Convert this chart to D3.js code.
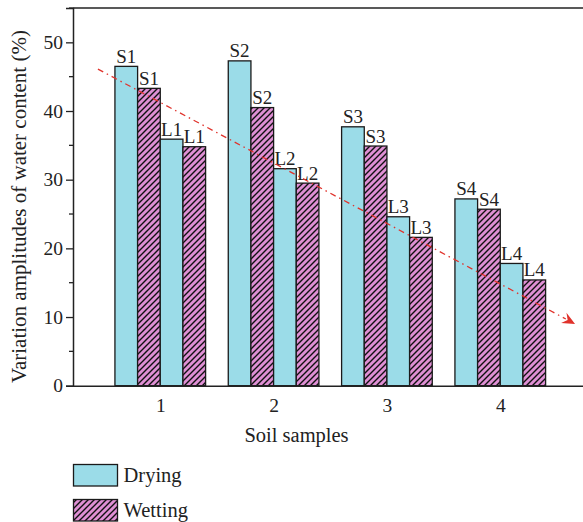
<!DOCTYPE html>
<html><head><meta charset="utf-8">
<script src="https://cdn.jsdelivr.net/npm/d3@7"></script>
<style>html,body{margin:0;padding:0;background:#fff;}svg{display:block;}</style>
</head><body>
<script>
const categories = [1, 2, 3, 4];
const sLabels = ["S1", "S2", "S3", "S4"];
const lLabels = ["L1", "L2", "L3", "L4"];
const dryingS = [46.5, 47.3, 37.7, 27.2];
const wettingS = [43.3, 40.5, 34.9, 25.7];
const dryingL = [35.9, 31.6, 24.6, 17.8];
const wettingL = [34.8, 29.5, 21.6, 15.4];
const yTicks = [0, 10, 20, 30, 40, 50];
const yMinorTicks = [5, 15, 25, 35, 45, 55];
const trend = [[0.45, 46.1], [4.66, 9.0]];
const legendItems = ["Drying", "Wetting"];

const W = 583, H = 522;
const FONT = "'Liberation Serif', 'Times New Roman', serif";
const svg = d3.select("body").append("svg").attr("width", W).attr("height", H);

const defs = svg.append("defs");
const pat = defs.append("pattern").attr("id", "hatch").attr("patternUnits", "userSpaceOnUse")
  .attr("width", 6).attr("height", 6);
pat.append("rect").attr("width", 6).attr("height", 6).attr("fill", "#df8fd4");
pat.append("path").attr("d", "M-1,1 l2,-2 M0,6 l6,-6 M5,7 l2,-2").attr("stroke", "#111").attr("stroke-width", 1.4);

const x = d3.scaleLinear().domain([0.23, 4.73]).range([73, 583]);
const y = d3.scaleLinear().domain([0, 55]).range([385.7, 8]);
const bw = 0.2;

const DRY = "#9bdce8", EDGE = "#1a1a1a";

// bars
const series = [
  {vals: dryingS, off: -0.4, fill: DRY, labels: sLabels},
  {vals: wettingS, off: -0.2, fill: "url(#hatch)", labels: sLabels},
  {vals: dryingL, off: 0.0, fill: DRY, labels: lLabels},
  {vals: wettingL, off: 0.2, fill: "url(#hatch)", labels: lLabels}
];
series.forEach(s => {
  const g = svg.append("g");
  g.selectAll("rect").data(categories).enter().append("rect")
    .attr("x", (c) => x(c + s.off))
    .attr("width", (c) => x(c + s.off + bw) - x(c + s.off))
    .attr("y", (c, i) => y(s.vals[i]))
    .attr("height", (c, i) => y(0) - y(s.vals[i]))
    .attr("fill", s.fill).attr("stroke", EDGE).attr("stroke-width", 1.3);
  g.selectAll("text").data(categories).enter().append("text")
    .attr("x", (c) => x(c + s.off + bw / 2))
    .attr("y", (c, i) => y(s.vals[i]) - 3.5)
    .attr("text-anchor", "middle").attr("font-family", FONT).attr("font-size", 19)
    .attr("fill", "#222").text((c, i) => s.labels[i]);
});

// top border
svg.append("line").attr("x1", x(0.23)).attr("x2", 583).attr("y1", y(55)).attr("y2", y(55))
  .attr("stroke", "#222").attr("stroke-width", 1.5);

// y axis
const yAxis = svg.append("g").attr("transform", `translate(${x(0.23)},0)`)
  .call(d3.axisLeft(y).tickValues(yTicks).tickSize(7).tickPadding(3).tickFormat(d3.format("d")));
yAxis.select(".domain").attr("stroke", "#222").attr("stroke-width", 1.5);
yAxis.selectAll(".tick line").attr("stroke", "#222").attr("stroke-width", 1.3);
yAxis.selectAll("text").attr("font-family", FONT).attr("font-size", 19.5).attr("fill", "#222");
svg.append("g").selectAll("line").data(yMinorTicks).enter().append("line")
  .attr("x1", x(0.23) - 4).attr("x2", x(0.23)).attr("y1", d => y(d)).attr("y2", d => y(d))
  .attr("stroke", "#222").attr("stroke-width", 1.3);

// x axis
const xAxis = svg.append("g").attr("transform", `translate(0,${y(0)})`)
  .call(d3.axisBottom(x).tickValues(categories).tickSize(0).tickPadding(12).tickFormat(d3.format("d")));
xAxis.select(".domain").attr("stroke", "#222").attr("stroke-width", 1.5);
xAxis.selectAll("text").attr("font-family", FONT).attr("font-size", 19.5).attr("fill", "#222");

// axis titles
svg.append("text").attr("x", 296.5).attr("y", 441.5).attr("text-anchor", "middle")
  .attr("font-family", FONT).attr("font-size", 20.5).attr("fill", "#222").text("Soil samples");
svg.append("text").attr("transform", "translate(26,206.5) rotate(-90)").attr("text-anchor", "middle")
  .attr("font-family", FONT).attr("font-size", 21).attr("fill", "#222")
  .text("Variation amplitudes of water content (%)");

// trend arrow
const x0 = x(trend[0][0]), y0 = y(trend[0][1]), x1 = x(trend[1][0]), y1 = y(trend[1][1]);
const ang = Math.atan2(y1 - y0, x1 - x0);
const L = 14;
const bx = x1 - L * 0.75 * Math.cos(ang), by = y1 - L * 0.75 * Math.sin(ang);
svg.append("line").attr("x1", x0).attr("y1", y0).attr("x2", bx).attr("y2", by)
  .attr("stroke", "#e0322b").attr("stroke-width", 1.3).attr("stroke-dasharray", "6,4,1.5,4");
const pt = (d, a) => [x1 - d * Math.cos(ang + a), y1 - d * Math.sin(ang + a)];
const p1 = pt(L, 0.42), p2 = pt(L, -0.42), pm = pt(L * 0.6, 0);
svg.append("path").attr("d", `M${x1},${y1}L${p1}L${pm}L${p2}Z`).attr("fill", "#e0322b");

// legend
const lg = svg.append("g");
legendItems.forEach((name, i) => {
  const yy = 464.5 + i * 35;
  lg.append("rect").attr("x", 73.5).attr("y", yy).attr("width", 44).attr("height", 21.5)
    .attr("fill", i === 0 ? DRY : "url(#hatch)").attr("stroke", EDGE).attr("stroke-width", 1.3);
  lg.append("text").attr("x", 123.5).attr("y", yy + 17.5).attr("font-family", FONT)
    .attr("font-size", 20.5).attr("fill", "#222").text(name);
});
</script>
</body></html>
